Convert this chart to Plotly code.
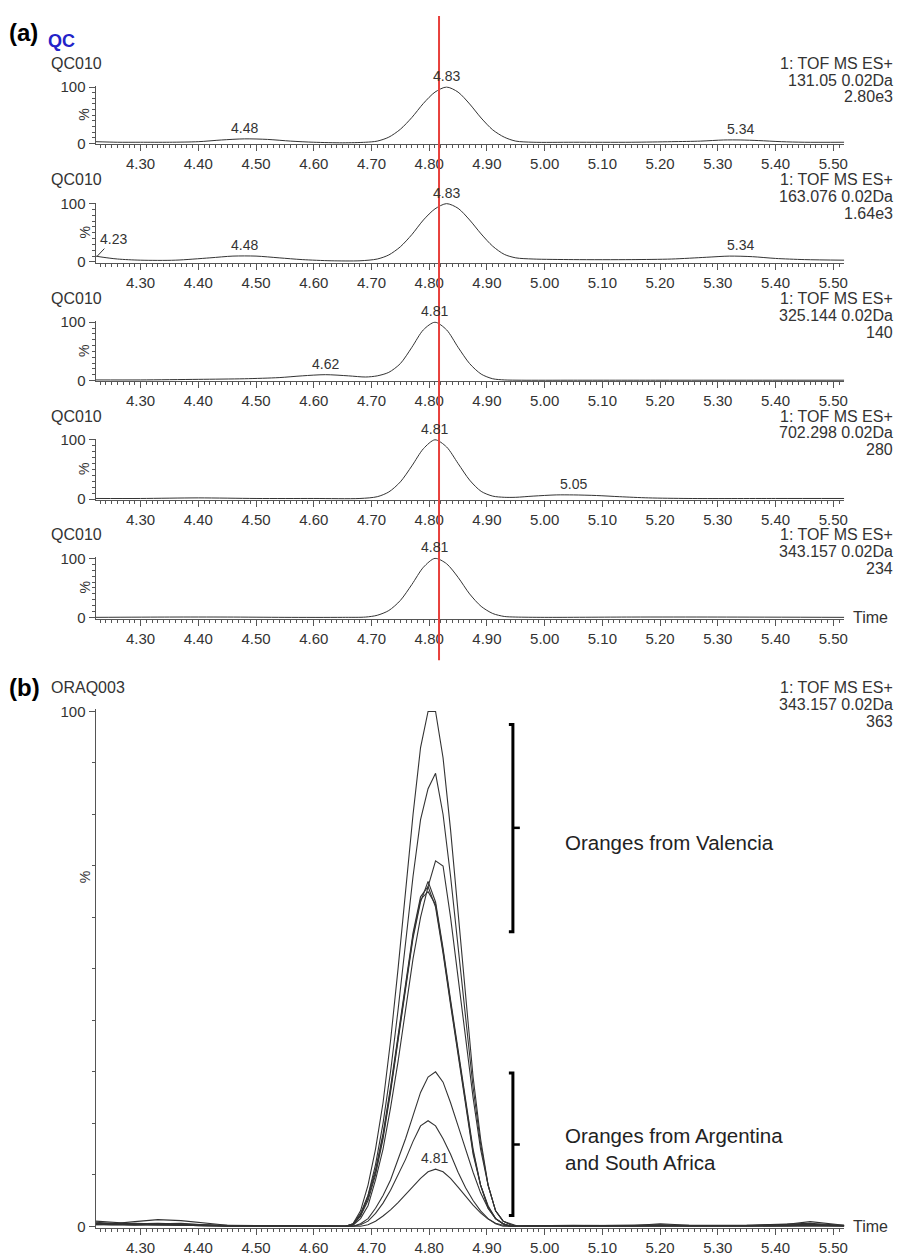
import plotly.graph_objects as go

# ---------------------------------------------------------------------------
# Extracted-ion chromatograms, QC sample (panel a): retention time (min) / relative intensity (%)
# ---------------------------------------------------------------------------
t_131 = [4.222, 4.26, 4.30, 4.35, 4.40, 4.44, 4.48, 4.52, 4.56, 4.60, 4.65, 4.69, 4.71, 4.73, 4.75,
         4.77, 4.79, 4.81, 4.83, 4.85, 4.87, 4.89, 4.91, 4.93, 4.95, 4.98, 5.05, 5.15, 5.22, 5.27,
         5.31, 5.34, 5.37, 5.41, 5.45, 5.519]
i_131 = [3, 2, 2, 2, 3, 6, 8, 7, 4, 2, 1, 2, 4, 11, 25,
         46, 71, 91, 100, 91, 70, 45, 24, 11, 4, 2, 2, 2, 3, 4,
         6, 6, 5, 3, 2, 2]

t_163 = [4.222, 4.235, 4.26, 4.30, 4.36, 4.42, 4.46, 4.50, 4.54, 4.58, 4.63, 4.68, 4.71, 4.73, 4.75,
         4.77, 4.79, 4.81, 4.83, 4.85, 4.87, 4.89, 4.91, 4.93, 4.95, 4.98, 5.05, 5.15, 5.22, 5.28,
         5.32, 5.36, 5.40, 5.45, 5.519]
i_163 = [10, 8, 5, 3, 3, 7, 10, 10, 7, 4, 2, 2, 5, 12, 26,
         47, 72, 91, 100, 92, 72, 48, 27, 13, 7, 5, 4, 4, 5, 8,
         10, 9, 6, 4, 3]

t_325 = [4.222, 4.30, 4.40, 4.48, 4.54, 4.58, 4.62, 4.66, 4.69, 4.71, 4.73, 4.75, 4.77, 4.79, 4.81,
         4.83, 4.85, 4.87, 4.89, 4.91, 4.93, 4.96, 5.05, 5.20, 5.35, 5.519]
i_325 = [1, 1, 2, 3, 5, 8, 10, 8, 6, 8, 14, 29, 57, 87, 100,
         87, 57, 29, 11, 3, 1, 0.5, 0.5, 0.5, 0.5, 0.5]

t_702 = [4.222, 4.30, 4.40, 4.50, 4.60, 4.68, 4.71, 4.73, 4.75, 4.77, 4.79, 4.81, 4.83, 4.85, 4.87,
         4.89, 4.91, 4.93, 4.95, 4.98, 5.02, 5.05, 5.09, 5.13, 5.18, 5.25, 5.40, 5.519]
i_702 = [1, 1, 2, 1, 1, 1, 4, 12, 29, 56, 85, 100, 88, 60, 32,
         13, 5, 3, 3, 5, 7, 7, 6, 4, 2, 1, 1, 1]

t_343 = [4.222, 4.35, 4.45, 4.55, 4.65, 4.69, 4.71, 4.73, 4.75, 4.77, 4.79, 4.81, 4.83, 4.85, 4.87,
         4.89, 4.91, 4.93, 4.95, 5.00, 5.15, 5.30, 5.519]
i_343 = [0.5, 1, 1, 0.5, 0.5, 1, 4, 12, 29, 56, 85, 100, 91, 68, 40,
         19, 7, 2, 1, 0.5, 1, 1, 0.5]

qc_sample = "QC010"
qc_channels = ["131.05 0.02Da", "163.076 0.02Da", "325.144 0.02Da", "702.298 0.02Da", "343.157 0.02Da"]
qc_base_peak = ["2.80e3", "1.64e3", "140", "280", "234"]
qc_peak_labels = [
    [(4.48, 8), (4.83, 100), (5.34, 6)],
    [(4.48, 10), (4.83, 100), (5.34, 10)],
    [(4.62, 10), (4.81, 100)],
    [(4.81, 100), (5.05, 7)],
    [(4.81, 100)],
]

# ---------------------------------------------------------------------------
# m/z 343.157 chromatograms of orange samples (panel b), overlaid, % of ORAQ003
# ---------------------------------------------------------------------------
t_pre = [4.222, 4.25, 4.29, 4.33, 4.37, 4.41, 4.45, 4.55, 4.64]
t_peak = [4.655, 4.668, 4.681, 4.694, 4.707, 4.720, 4.733, 4.746, 4.759, 4.772, 4.785, 4.798,
          4.811, 4.824, 4.837, 4.850, 4.863, 4.876, 4.889, 4.902, 4.915, 4.928, 4.941, 4.954]
t_post = [4.97, 5.05, 5.15, 5.20, 5.25, 5.35, 5.42, 5.46, 5.50, 5.519]
t_orange = t_pre + t_peak + t_post

orange_samples = {
    "valencia_1": [1.0, 0.8, 0.5, 0.6, 0.4, 0.3, 0.2, 0.1, 0.1] +
                  [0, 0.5, 3, 8, 15, 24, 36, 50, 65, 80, 93, 100,
                   100, 91, 77, 61, 44, 29, 17, 8, 3, 1, 0.5, 0] +
                  [0.1, 0.1, 0.2, 0.3, 0.1, 0.2, 0.5, 0.6, 0.3, 0.2],
    "valencia_2": [0.6, 0.5, 0.9, 1.3, 1.1, 0.6, 0.2, 0.1, 0.1] +
                  [0, 0.3, 2, 6, 12, 20, 30, 42, 55, 68, 79, 85,
                   88, 80, 68, 54, 40, 27, 16, 8, 3, 1, 0.3, 0] +
                  [0.1, 0.1, 0.1, 0.5, 0.2, 0.1, 0.4, 0.9, 0.5, 0.2],
    "valencia_3": [0.4, 0.6, 0.4, 0.5, 0.6, 0.3, 0.1, 0.1, 0.0] +
                  [0, 0.2, 1.5, 4, 9, 15, 23, 32, 42, 52, 60, 66,
                   71, 70, 60, 48, 36, 25, 15, 8, 3, 1, 0.3, 0] +
                  [0.1, 0.1, 0.1, 0.2, 0.1, 0.1, 0.3, 0.4, 0.2, 0.1],
    "valencia_4": [0.8, 0.6, 0.5, 0.4, 0.3, 0.2, 0.1, 0.0, 0.1] +
                  [0, 0.3, 2, 5, 10, 17, 26, 36, 46, 56, 63, 67,
                   63, 54, 44, 34, 24, 15, 8, 4, 1.5, 0.5, 0, 0] +
                  [0.1, 0.1, 0.2, 0.2, 0.1, 0.1, 0.2, 0.3, 0.2, 0.1],
    "valencia_5": [0.5, 0.4, 0.6, 0.5, 0.4, 0.2, 0.1, 0.1, 0.0] +
                  [0, 0.5, 2.5, 6, 11, 18, 27, 37, 47, 57, 64, 66,
                   62, 53, 43, 33, 23, 14, 8, 3.5, 1.5, 0.5, 0, 0] +
                  [0.1, 0.2, 0.1, 0.2, 0.1, 0.1, 0.2, 0.2, 0.1, 0.1],
    "valencia_6": [0.3, 0.4, 0.3, 0.4, 0.3, 0.2, 0.1, 0.0, 0.0] +
                  [0, 0.4, 2.2, 5.5, 10.5, 17.5, 26.5, 36.5, 46.5, 56.5, 63.5, 65,
                   62.5, 53.5, 43.5, 33.5, 23.5, 14.5, 8, 3.8, 1.5, 0.5, 0, 0] +
                  [0.0, 0.1, 0.1, 0.1, 0.1, 0.1, 0.1, 0.2, 0.1, 0.1],
    "south_1":    [0.6, 0.4, 0.3, 0.3, 0.2, 0.1, 0.1, 0.0, 0.0] +
                  [0, 0, 0.5, 1.5, 3.5, 6, 9, 13, 17, 21.5, 26, 29,
                   30, 28, 24, 19.5, 15, 10.5, 6.5, 3.5, 1.5, 0.5, 0, 0] +
                  [0.1, 0.1, 0.1, 0.2, 0.1, 0.1, 0.2, 0.3, 0.2, 0.1],
    "south_2":    [0.4, 0.3, 0.4, 0.3, 0.2, 0.1, 0.0, 0.0, 0.0] +
                  [0, 0, 0.3, 1, 2.5, 4.5, 7, 10, 13, 16.5, 19.5, 20.5,
                   19.5, 17, 14, 10.5, 7.5, 5, 3, 1.5, 0.5, 0, 0, 0] +
                  [0.0, 0.1, 0.1, 0.1, 0.1, 0.0, 0.1, 0.2, 0.1, 0.1],
    "south_3":    [0.3, 0.2, 0.2, 0.3, 0.2, 0.1, 0.0, 0.0, 0.0] +
                  [0, 0, 0, 0.3, 1, 2, 3.2, 4.6, 6.2, 7.8, 9.3, 10.6,
                   11.1, 10.6, 9.3, 7.6, 5.8, 4.1, 2.6, 1.4, 0.6, 0.2, 0, 0] +
                  [0.0, 0.0, 0.1, 0.1, 0.0, 0.0, 0.1, 0.1, 0.1, 0.0],
}
orange_sample = "ORAQ003"
orange_channel = "343.157 0.02Da"
orange_base_peak = "363"
orange_peak_label = (4.81, 11.1)

# ---------------------------------------------------------------------------
# Page geometry (pixels)
# ---------------------------------------------------------------------------
W, H = 901, 1258
X_LO, X_HI = 4.222, 5.519
PX_LEFT, PX_RIGHT = 96, 848
A_ROWS = [(80, 137), (198, 257), (318, 377), (437, 497), (557, 617)]   # (100 % row, 0 % row)
B_ROW = (712, 1233)
RT_MARK = 4.817

FONT = "Liberation Sans, Arial, sans-serif"
INK = "#333333"
AXIS = "#555555"
HDR = 16      # header text size
TCK = 15      # tick label size


def ydomain(top_px, bottom_px, pad):
    span = bottom_px - top_px
    lo = bottom_px + pad * span / 100.0
    hi = top_px - pad * span / 100.0
    return [1 - lo / H, 1 - hi / H]


def px_x(px):
    return px / W


def px_y(py):
    return 1 - py / H


def time_axis(anchor):
    return dict(
        domain=[px_x(PX_LEFT), px_x(PX_RIGHT)], range=[X_LO, X_HI], anchor=anchor,
        showline=True, linecolor=AXIS, linewidth=1, showgrid=False, zeroline=False,
        ticks="outside", ticklen=6, tickcolor=AXIS, tick0=4.3, dtick=0.1, tickformat=".2f",
        tickfont=dict(size=TCK, color=INK),
        minor=dict(ticks="outside", ticklen=3, tickcolor=AXIS, tick0=4.3, dtick=0.01, showgrid=False),
    )


def pct_axis(anchor, top_px, bot_px, pad):
    return dict(
        domain=ydomain(top_px, bot_px, pad), range=[-pad, 100 + pad], anchor=anchor,
        showline=True, linecolor=AXIS, linewidth=1, showgrid=False, zeroline=False,
        ticks="outside", ticklen=6, tickcolor=AXIS, tickvals=[0, 100], ticktext=["0", "100"],
        tickfont=dict(size=TCK, color=INK),
        minor=dict(ticks="outside", ticklen=3, tickcolor=AXIS, tick0=0, dtick=10, showgrid=False),
    )


def paper_text(px, py, text, size, xanchor="left", color=INK, angle=0):
    return dict(xref="paper", yref="paper", x=px_x(px), y=px_y(py), xanchor=xanchor,
                yanchor="middle", showarrow=False, text=text, textangle=angle,
                font=dict(size=size, color=color))


fig = go.Figure()
layout = dict(
    width=W, height=H,
    margin=dict(l=0, r=0, t=0, b=0),
    paper_bgcolor="white", plot_bgcolor="white",
    showlegend=False,
    font=dict(family=FONT, size=TCK, color=INK),
)

qc_series = [(t_131, i_131), (t_163, i_163), (t_325, i_325), (t_702, i_702), (t_343, i_343)]
annotations = []
shapes = []
PAD = 1.5

for k, (t, y) in enumerate(qc_series):
    n = k + 1
    xa, ya = ("x" if n == 1 else f"x{n}"), ("y" if n == 1 else f"y{n}")
    fig.add_trace(go.Scatter(x=t, y=y, mode="lines", xaxis=xa, yaxis=ya,
                             line=dict(color=INK, width=1, shape="spline", smoothing=0.8),
                             hoverinfo="skip"))
    top_px, bot_px = A_ROWS[k]
    layout[f"xaxis{n}"] = time_axis(ya)
    layout[f"yaxis{n}"] = pct_axis(xa, top_px, bot_px, PAD)
    # sample name and channel description
    annotations.append(paper_text(49, top_px - 24, qc_sample, HDR))
    for j, line in enumerate(["1: TOF MS ES+", qc_channels[k], qc_base_peak[k]]):
        annotations.append(paper_text(899, top_px - 24 + 17 * j, line, HDR, xanchor="right"))
    annotations.append(paper_text(85, (top_px + bot_px) / 2, "%", 14, xanchor="center", angle=-90))
    for (rt, h) in qc_peak_labels[k]:
        annotations.append(dict(xref=xa, yref=ya, x=rt, y=h, xanchor="center", yanchor="bottom",
                                yshift=1, showarrow=False, text=f"{rt:.2f}",
                                font=dict(size=14, color=INK)))

# leading edge peak in the 163.076 trace
annotations.append(dict(xref="x2", yref="y2", x=4.225, y=10, ax=16, ay=-17, showarrow=True,
                        arrowhead=0, arrowwidth=1, arrowcolor=INK, text="4.23",
                        font=dict(size=14, color=INK)))

# "Time" caption at the end of the last QC axis
annotations.append(paper_text(855, A_ROWS[4][1], "Time", HDR))

# ---------------------------------------------------------------------------
# Panel b
# ---------------------------------------------------------------------------
for name, vals in orange_samples.items():
    fig.add_trace(go.Scatter(x=t_orange, y=vals, mode="lines", xaxis="x6", yaxis="y6",
                             line=dict(color=INK, width=1.1), name=name, hoverinfo="skip"))

PAD_B = 0.4
layout["xaxis6"] = time_axis("y6")
layout["yaxis6"] = pct_axis("x6", B_ROW[0], B_ROW[1], PAD_B)

annotations.append(paper_text(49, 688, orange_sample, HDR))
for j, line in enumerate(["1: TOF MS ES+", orange_channel, orange_base_peak]):
    annotations.append(paper_text(899, 688 + 17 * j, line, HDR, xanchor="right"))
annotations.append(paper_text(85, 880, "%", 14, xanchor="center", angle=-90))
annotations.append(dict(xref="x6", yref="y6", x=orange_peak_label[0], y=orange_peak_label[1],
                        xanchor="center", yanchor="bottom", yshift=1, showarrow=False,
                        text=f"{orange_peak_label[0]:.2f}", font=dict(size=14, color=INK)))
annotations.append(paper_text(855, B_ROW[1], "Time", HDR))

# group brackets with captions
BR_X = 4.945
for (y_top, y_bot, y_mid, caption, y_text) in [
    (97.5, 57.2, 77.4, "Oranges from Valencia", 74.5),
    (29.8, 2.1, 15.9, "Oranges from Argentina<br>and South Africa", 15.0),
]:
    shapes.append(dict(type="path", xref="x6", yref="y6",
                       path=f"M {BR_X - 0.007},{y_top} L {BR_X},{y_top} L {BR_X},{y_bot} L {BR_X - 0.007},{y_bot}",
                       line=dict(color="black", width=3)))
    shapes.append(dict(type="line", xref="x6", yref="y6", x0=BR_X, x1=BR_X + 0.012,
                       y0=y_mid, y1=y_mid, line=dict(color="black", width=2.5)))
    annotations.append(dict(xref="x6", yref="y6", x=5.031, y=y_text, xanchor="left",
                            yanchor="middle", showarrow=False, align="left", text=caption,
                            font=dict(size=20.5, color="#222222")))

# panel letters
annotations.append(paper_text(7, 25, "<b>(a)</b>", 24, color="black"))
annotations.append(paper_text(46, 33, "<b>QC</b>", 18, color="#2323c8"))
annotations.append(paper_text(7, 688, "<b>(b)</b>", 24, color="black"))

# retention-time marker across the QC traces
shapes.append(dict(type="line", xref="x", yref="paper", x0=RT_MARK, x1=RT_MARK,
                   y0=px_y(8), y1=px_y(660), line=dict(color="#e8403c", width=2)))

layout["annotations"] = annotations
layout["shapes"] = shapes
fig.update_layout(**layout)
fig.write_html("out.html")
